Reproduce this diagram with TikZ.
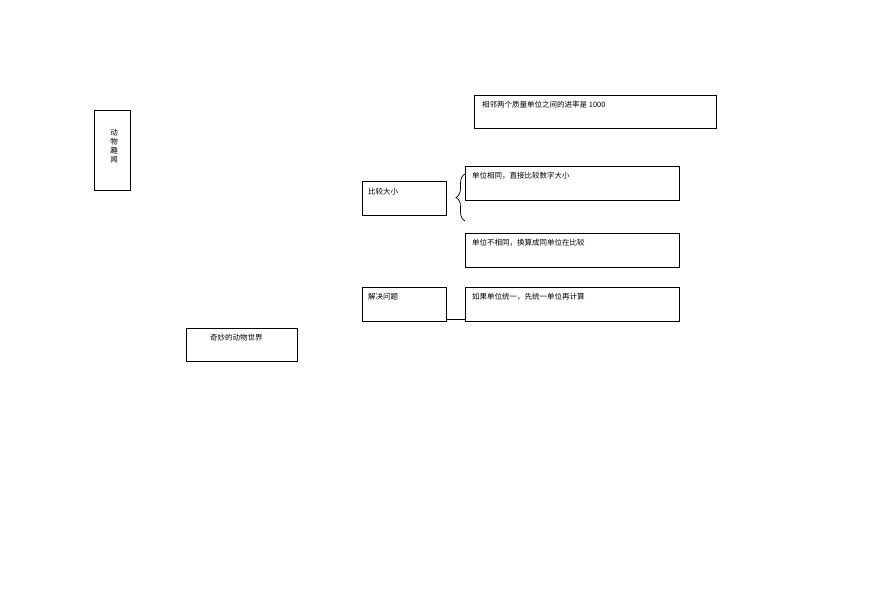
\documentclass[tikz,border=0pt]{standalone}
\usepackage{fontspec}
\newfontfamily\cjk{Noto Sans CJK SC}
\usetikzlibrary{decorations.pathreplacing}
\begin{document}
\begin{tikzpicture}[x=1pt,y=-1pt,
  bx/.style={draw,line width=0.7pt},
  tx/.style={anchor=north west,inner sep=0pt,font=\cjk\fontsize{7.5}{9}\selectfont}]
\useasboundingbox[fill=white] (0,0) rectangle (870,615);
\draw[bx] (474,95) rectangle (716,128);
\node[tx] (t1) at (482,101) {相邻两个质量单位之间的进率是 1000};
\draw[bx] (94,110) rectangle (130,190);
\node[tx,align=center,anchor=north] (t2) at (114,129) {动\\物\\趣\\闻};
\draw[bx] (362,181) rectangle (446,215);
\node[tx] (t3) at (368,188) {比较大小};
\draw[bx] (465,166) rectangle (679,200);
\node[tx] (t4) at (472,172) {单位相同，直接比较数字大小};
\draw[bx] (465,233) rectangle (679,267);
\node[tx] (t5) at (472,239) {单位不相同，换算成同单位在比较};
\draw[bx] (362,287) rectangle (446,321);
\node[tx] (t6) at (368,293) {解决问题};
\draw[bx] (465,287) rectangle (679,321);
\node[tx] (t7) at (472,293) {如果单位统一，先统一单位再计算};
\draw[bx] (186,328) rectangle (297,361);
\node[tx] (t8) at (210,334) {奇妙的动物世界};
\coordinate (b1) at (465,174);
\coordinate (b2) at (465,221);
\draw[line width=0.7pt,decorate,decoration={brace,amplitude=9pt}] (b2) -- (b1);
\coordinate (l1) at (446,319);
\coordinate (l2) at (465,319);
\draw[line width=0.7pt] (l1) -- (l2);
\end{tikzpicture}
\end{document}
